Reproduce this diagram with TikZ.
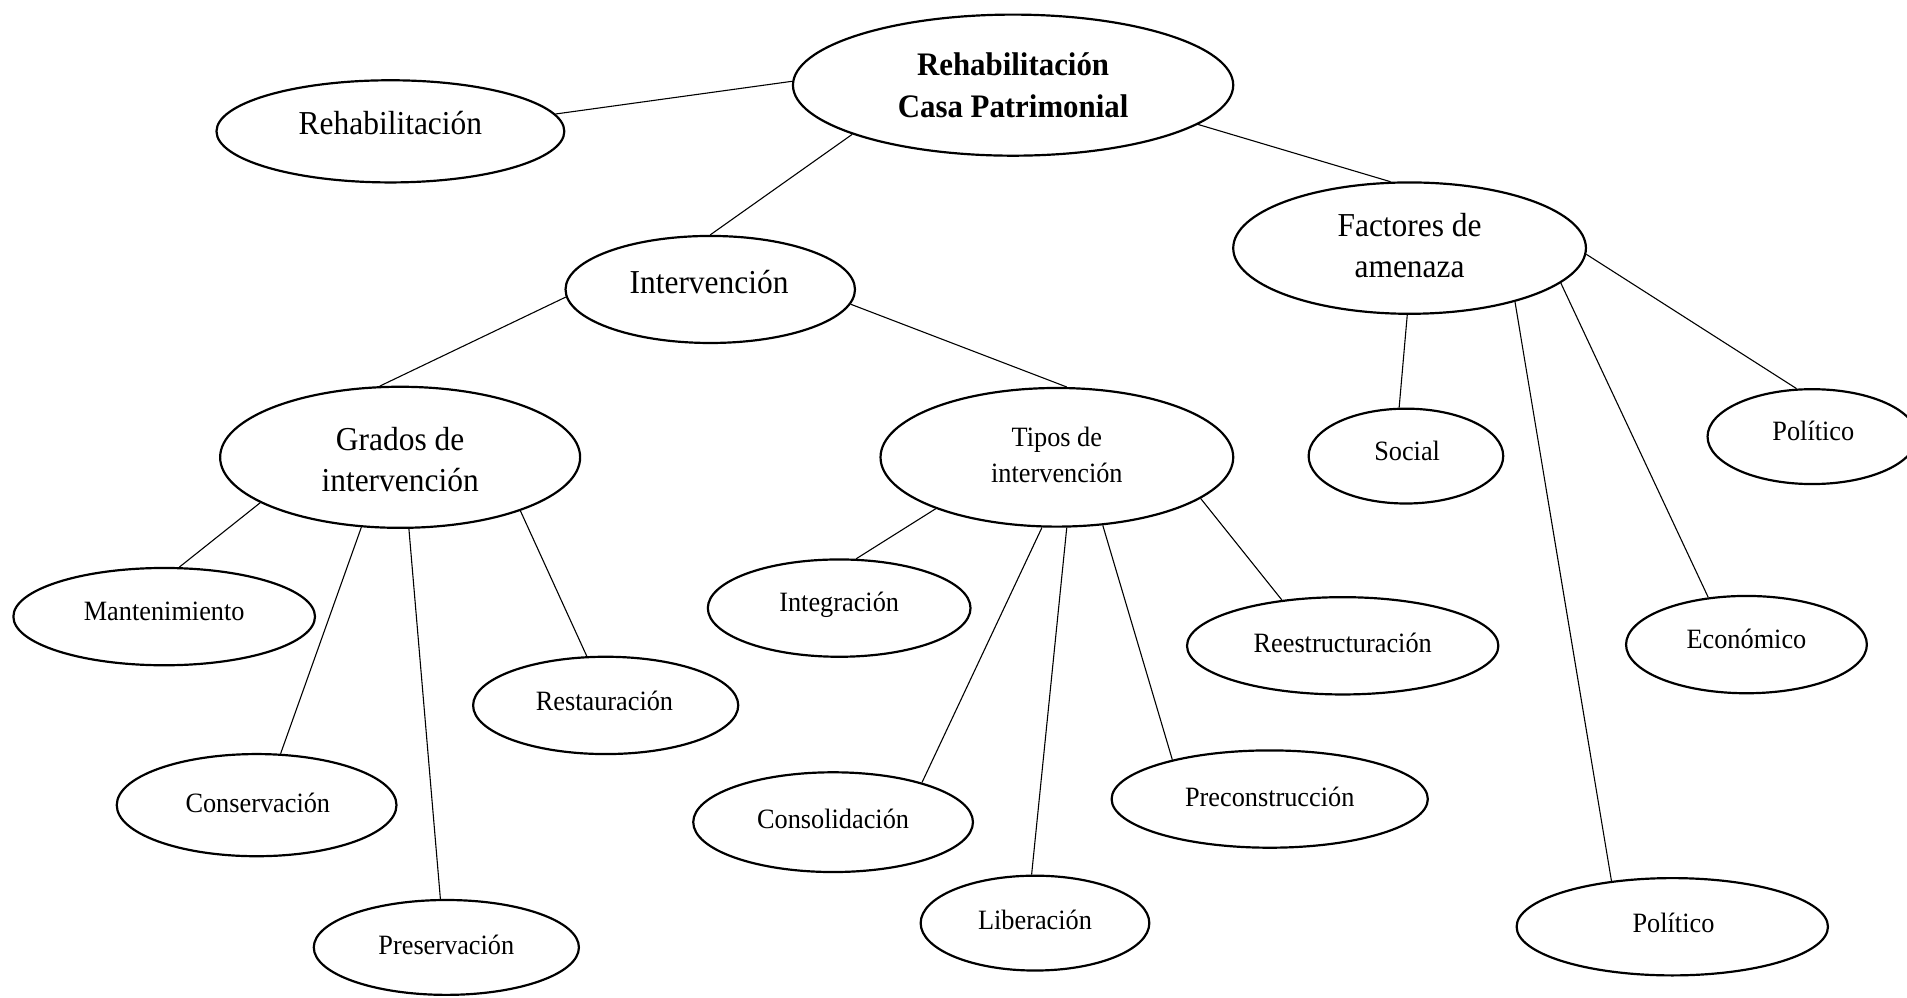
\documentclass[tikz,border=0pt]{standalone}
\usepackage{fontspec}
\setmainfont{Liberation Serif}[FakeStretch=0.94]
\usetikzlibrary{shapes.geometric}
\begin{document}
\begin{tikzpicture}[x=1pt,y=-1pt,
  ell/.style={ellipse,draw,line width=1.8pt,inner sep=0pt},
  big/.style={font=\fontsize{27.5}{34}\selectfont,align=center,inner sep=0pt},
  small/.style={font=\fontsize{23}{29}\selectfont,align=center,inner sep=0pt},
  link/.style={line width=0.9pt}]
\useasboundingbox (0,0) rectangle (1568,820);

% ellipses
\node[ell,minimum width=362pt,minimum height=116pt] (root) at (833,70) {};
\node[ell,minimum width=286pt,minimum height=84pt] (rehab) at (321,108) {};
\node[ell,minimum width=238pt,minimum height=88pt] (interv) at (584,238) {};
\node[ell,minimum width=290pt,minimum height=108pt] (fact) at (1159,204) {};
\node[ell,minimum width=296pt,minimum height=116pt] (grados) at (329,376) {};
\node[ell,minimum width=290pt,minimum height=114pt] (tipos) at (869,376) {};
\node[ell,minimum width=160pt,minimum height=78pt] (social) at (1156,375) {};
\node[ell,minimum width=172pt,minimum height=78pt] (poltop) at (1490,359) {};
\node[ell,minimum width=248pt,minimum height=80pt] (mant) at (135,507) {};
\node[ell,minimum width=230pt,minimum height=84pt] (conse) at (211,662) {};
\node[ell,minimum width=218pt,minimum height=78pt] (pres) at (367,779) {};
\node[ell,minimum width=218pt,minimum height=80pt] (rest) at (498,580) {};
\node[ell,minimum width=216pt,minimum height=80pt] (integ) at (690,500) {};
\node[ell,minimum width=230pt,minimum height=82pt] (consol) at (685,676) {};
\node[ell,minimum width=188pt,minimum height=78pt] (lib) at (851,759) {};
\node[ell,minimum width=260pt,minimum height=80pt] (precon) at (1044,657) {};
\node[ell,minimum width=256pt,minimum height=80pt] (reest) at (1104,531) {};
\node[ell,minimum width=198pt,minimum height=80pt] (econ) at (1436,530) {};
\node[ell,minimum width=256pt,minimum height=80pt] (polbot) at (1375,762) {};

% texts
\node[big,font=\fontsize{27}{35}\selectfont\bfseries] (root-t) at (833,70) {Rehabilitación\\Casa Patrimonial};
\node[big] (rehab-t) at (321,101) {Rehabilitación};
\node[big] (interv-t) at (583,232) {Intervención};
\node[big] (fact-t) at (1159,202) {Factores de\\amenaza};
\node[big] (grados-t) at (329,378) {Grados de\\intervención};
\node[small] (tipos-t) at (869,374) {Tipos de\\intervención};
\node[small] (social-t) at (1157,371) {Social};
\node[small] (poltop-t) at (1491,354) {Político};
\node[small] (mant-t) at (135,503) {Mantenimiento};
\node[small] (conse-t) at (212,660) {Conservación};
\node[small] (pres-t) at (367,777) {Preservación};
\node[small] (rest-t) at (497,576) {Restauración};
\node[small] (integ-t) at (690,497) {Integración};
\node[small] (consol-t) at (685,673) {Consolidación};
\node[small] (lib-t) at (851,756) {Liberación};
\node[small] (precon-t) at (1044,655) {Preconstrucción};
\node[small] (reest-t) at (1104,529) {Reestructuración};
\node[small] (econ-t) at (1436,525) {Económico};
\node[small] (polbot-t) at (1376,759) {Político};

% connectors
\draw[link] (root.179) -- (rehab.6);
\draw[link] (root.197.6) -- (interv.90);
\draw[link] (root.348.7) -- (fact.106);
\draw[link] (interv.183) -- (grados.106);
\draw[link] (interv.354.7) -- (tipos.82);
\draw[link] (fact.268) -- (social.98.7);
\draw[link] (fact.333.7) -- (polbot.143);
\draw[link] (fact.347.7) -- (econ.129);
\draw[link] (fact.358.5) -- (poltop.108);
\draw[link] (grados.198.7) -- (mant.73);
\draw[link] (grados.241.5) -- (conse.65);
\draw[link] (grados.277) -- (pres.97.5);
\draw[link] (grados.336.5) -- (rest.111);
\draw[link] (tipos.203.2) -- (integ.71.9);
\draw[link] (tipos.258) -- (consol.24);
\draw[link] (tipos.278) -- (lib.94.4);
\draw[link] (tipos.304.6) -- (precon.158);
\draw[link] (tipos.344.5) -- (reest.143);
\end{tikzpicture}
\end{document}
